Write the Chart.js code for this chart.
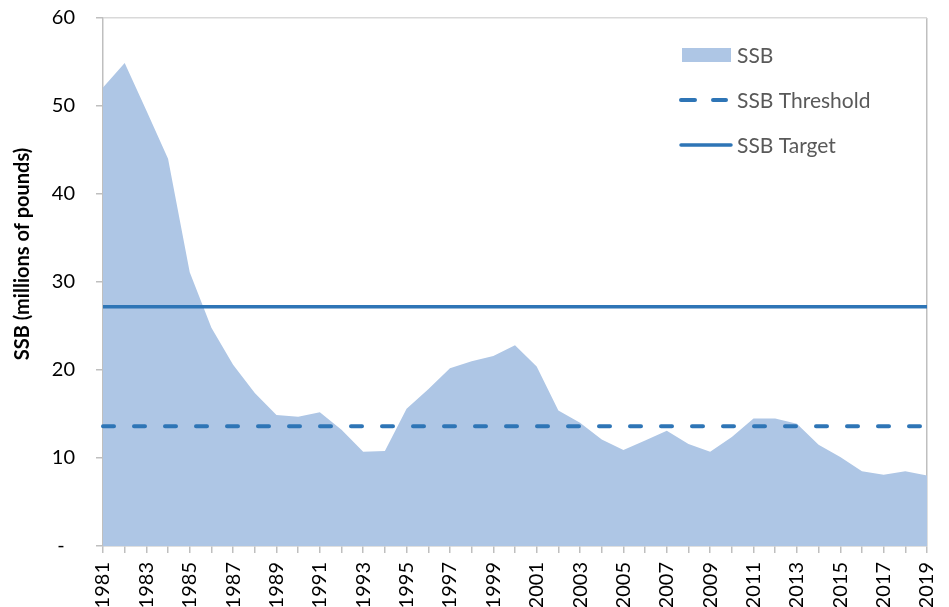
<!DOCTYPE html>
<html>
<head>
<meta charset="utf-8">
<script src="https://cdn.jsdelivr.net/npm/chart.js@4/dist/chart.umd.min.js"></script>
<style>
  html, body { margin: 0; padding: 0; background: #ffffff; }
  #wrap { width: 949px; height: 607px; }
</style>
</head>
<body>
<div id="wrap"><canvas id="c" width="949" height="607"></canvas></div>
<script>
// ---- data ----
const years = ["1981","1982","1983","1984","1985","1986","1987","1988","1989","1990",
  "1991","1992","1993","1994","1995","1996","1997","1998","1999","2000",
  "2001","2002","2003","2004","2005","2006","2007","2008","2009","2010",
  "2011","2012","2013","2014","2015","2016","2017","2018","2019"];
const ssb = [52.1, 54.9, 49.5, 44.0, 31.1, 24.8, 20.6, 17.4, 14.9, 14.7,
  15.2, 13.2, 10.7, 10.8, 15.6, 17.8, 20.2, 21.0, 21.6, 22.8,
  20.4, 15.4, 14.0, 12.1, 10.9, 12.0, 13.1, 11.6, 10.7, 12.4,
  14.5, 14.5, 13.9, 11.5, 10.1, 8.5, 8.1, 8.5, 8.0];
const ssbThreshold = 13.6;
const ssbTarget = 27.2;
const yTicks = [0, 10, 20, 30, 40, 50, 60];
const seriesNames = ["SSB", "SSB Threshold", "SSB Target"];

// ---- styles ----
const AREA = '#AEC6E5';
const LINE = '#2E75B6';
const AXIS = '#BFBFBF';
const FONT = 'Lato, "Open Sans", sans-serif';

const legendPlugin = {
  id: 'customLegend',
  afterDraw(chart) {
    const ctx = chart.ctx;
    ctx.save();
    // SSB swatch
    ctx.fillStyle = AREA;
    ctx.fillRect(682, 48, 49, 14);
    // threshold dashes
    ctx.strokeStyle = LINE;
    ctx.lineCap = 'round';
    ctx.lineWidth = 4;
    ctx.beginPath();
    ctx.moveTo(681, 100); ctx.lineTo(695, 100);
    ctx.moveTo(713, 100); ctx.lineTo(726, 100);
    ctx.stroke();
    // target line
    ctx.lineWidth = 3.5;
    ctx.beginPath();
    ctx.moveTo(681, 145); ctx.lineTo(731, 145);
    ctx.stroke();
    // text
    ctx.fillStyle = '#595959';
    ctx.font = '21px ' + FONT;
    ctx.textBaseline = 'middle';
    ctx.textAlign = 'left';
    ctx.fillText(seriesNames[0], 737, 56);
    ctx.fillText(seriesNames[1], 737, 101);
    ctx.fillText(seriesNames[2], 737, 146);
    // y title
    ctx.translate(23, 254);
    ctx.rotate(-Math.PI / 2);
    ctx.fillStyle = '#000000';
    ctx.font = 'bold 20px ' + FONT;
    ctx.textAlign = 'center';
    ctx.fillText('SSB (millions of pounds)', 0, 0);
    ctx.restore();
  }
};

new Chart(document.getElementById('c'), {
  type: 'line',
  data: {
    labels: years,
    datasets: [
      {
        label: seriesNames[0],
        data: ssb,
        backgroundColor: AREA,
        borderColor: AREA,
        borderWidth: 0,
        fill: 'origin',
        pointRadius: 0,
        tension: 0,
        order: 3
      },
      {
        label: seriesNames[1],
        data: years.map(() => ssbThreshold),
        borderColor: LINE,
        borderWidth: 4,
        borderDash: [11, 20],
        borderCapStyle: 'round',
        fill: false,
        pointRadius: 0,
        order: 1
      },
      {
        label: seriesNames[2],
        data: years.map(() => ssbTarget),
        borderColor: LINE,
        borderWidth: 3.5,
        fill: false,
        pointRadius: 0,
        order: 2
      }
    ]
  },
  options: {
    responsive: false,
    animation: false,
    devicePixelRatio: 1,
    layout: { padding: { top: 18, right: 22, left: 0, bottom: 0 } },
    plugins: {
      legend: { display: false },
      tooltip: { enabled: false }
    },
    scales: {
      x: {
        offset: false,
        afterFit(s) { s.height = 61; s.paddingLeft = 0; s.paddingRight = 0; },
        border: { color: AXIS, width: 1.5 },
        grid: {
          drawOnChartArea: true,
          color: (c) => (c.index === years.length - 1 ? AXIS : 'rgba(0,0,0,0)'),
          tickColor: AXIS,
          tickLength: 7,
          lineWidth: 1.5
        },
        ticks: {
          autoSkip: false,
          maxRotation: 90,
          minRotation: 90,
          padding: 9,
          color: '#000000',
          font: { family: FONT, size: 20 },
          callback: (v, i) => (i % 2 === 0 ? years[i] : '')
        }
      },
      y: {
        min: yTicks[0],
        max: yTicks[yTicks.length - 1],
        afterFit(s) { s.width = 103; s.paddingTop = 0; s.paddingBottom = 0; },
        afterBuildTicks(s) { s.ticks = yTicks.map(v => ({ value: v })); },
        border: { color: AXIS, width: 1.5 },
        grid: {
          drawOnChartArea: true,
          color: (c) => (c.tick && c.tick.value === 60 ? '#D9D9D9' : 'rgba(0,0,0,0)'),
          tickColor: AXIS,
          tickLength: 7,
          lineWidth: 1.5
        },
        ticks: {
          padding: 21,
          color: '#000000',
          font: { family: FONT, size: 20 },
          callback: (v) => (v === 0 ? '-  ' : String(v))
        }
      }
    }
  },
  plugins: [legendPlugin]
});
</script>
</body>
</html>
